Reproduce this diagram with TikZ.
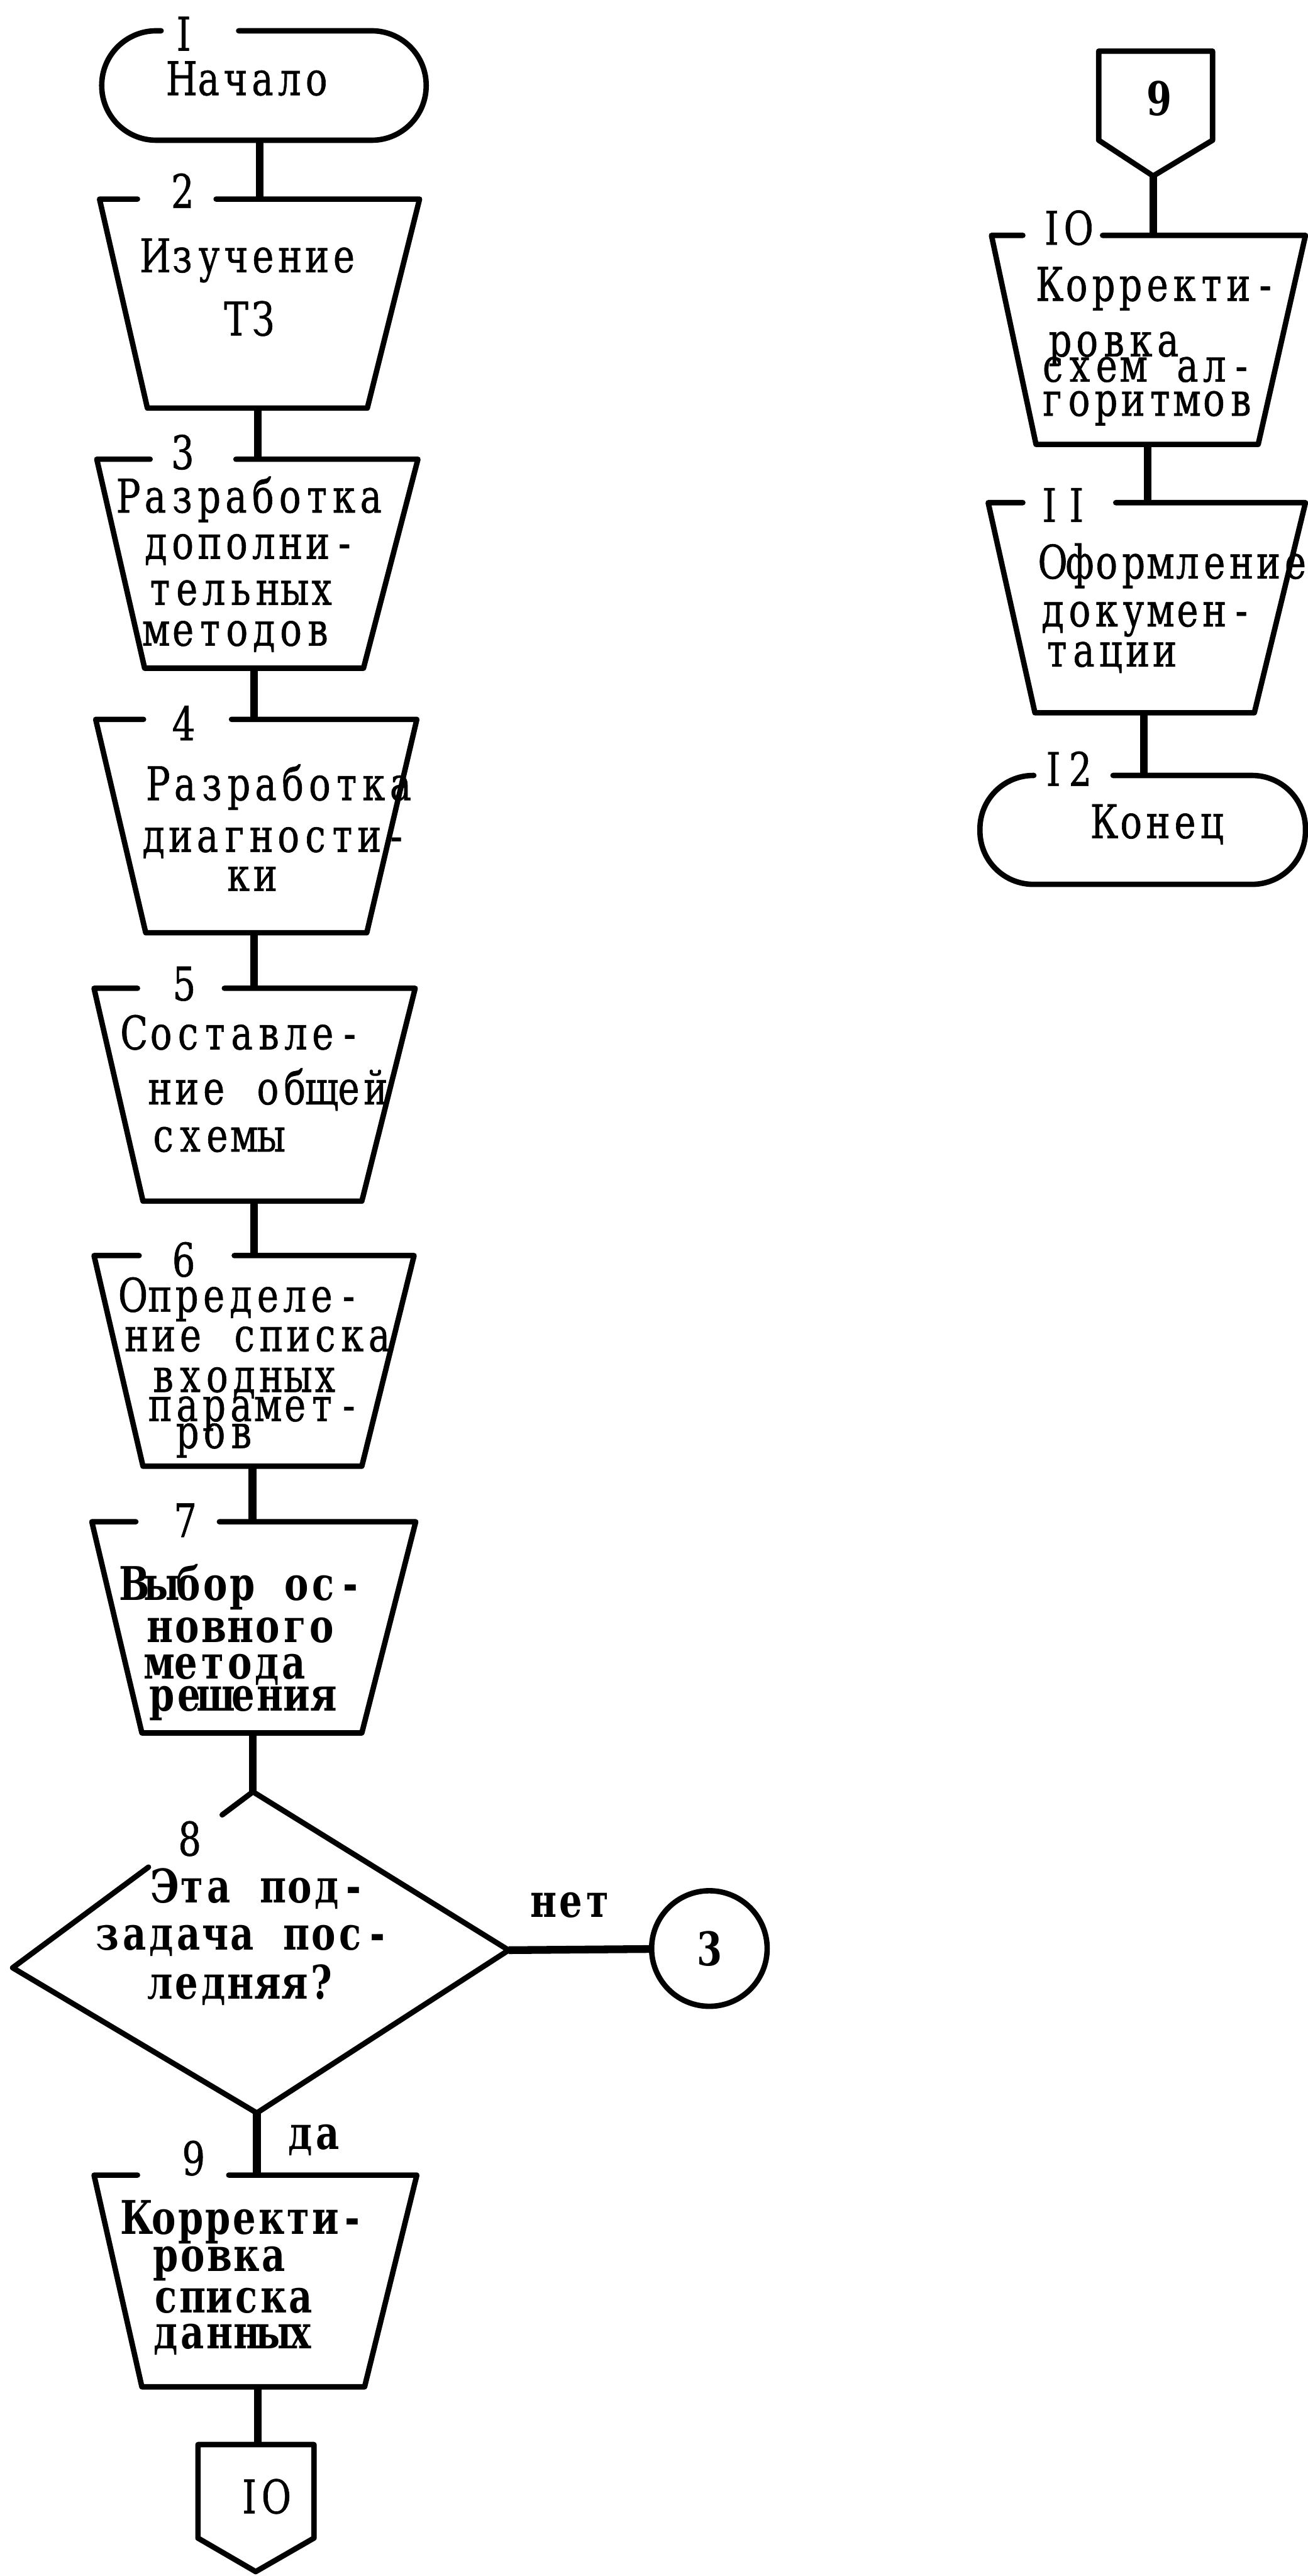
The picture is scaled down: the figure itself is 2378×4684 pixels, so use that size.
\documentclass[tikz,border=0pt]{standalone}
\usepackage{fontspec}
% typewriter-like serif faces, narrowed a little; the plain one slightly inked up
\newfontfamily\tw[FakeStretch=0.78, FakeBold=0.8]{DejaVu Serif}
\newfontfamily\twb[FakeStretch=0.78]{DejaVu Serif}
\newcommand\twsize{\fontsize{24pt}{24pt}\selectfont}
% set a word on a fixed typewriter pitch, one box per character (~ is a space)
\newcommand\typedend{}
\def\typedi#1{\ifx#1\typedend\else\makebox[13.94pt]{#1}\expandafter\typedi\fi}
\newcommand\typed[1]{\typedi#1\typedend}
\begin{document}
\begin{tikzpicture}[x=0.01cm, y=-0.01cm,
  outline/.style={line width=2.8pt, line join=round, line cap=round},
  link/.style={line width=4pt},
  txt/.style={anchor=base, inner sep=0pt, font=\tw\twsize},
  btxt/.style={anchor=base, inner sep=0pt, font=\twb\twsize\bfseries}]

\fill[white] (0,0) rectangle (2378,4684);
\useasboundingbox (0,0) rectangle (2378,4684);

% ---------------- left column ----------------
% 1: start
\draw[outline, rounded corners=0.99cm] (293,56) -- (185,56) -- (185,255) -- (775,255) -- (775,56) -- (434,56);
\node[txt] (l1) at (334,92) {\typed{I}};
\node[txt] (t1) at (453,173) {\typed{Начало}};
\coordinate (s1s) at (472,255);

% 2
\draw[outline] (250,362) -- (181,362) -- (268,742) -- (668,742) -- (763,362) -- (393,362);
\node[txt] (l2) at (332,378) {\typed{2}};
\node[txt] (t2a) at (454,495) {\typed{Изучение}};
\node[txt] (t2b) at (454,610) {\typed{ТЗ}};
\coordinate (s2n) at (472,362);
\coordinate (s2s) at (469,742);

% 3
\draw[outline] (273,835) -- (176,835) -- (263,1215) -- (661,1215) -- (760,835) -- (429,835);
\node[txt] (l3) at (332,853) {\typed{3}};
\node[txt] (t3a) at (454,932) {\typed{Разработка}};
\node[txt] (t3b) at (455,1016) {\typed{дополни-}};
\node[txt] (t3c) at (438,1100) {\typed{тельных}};
\node[txt] (t3d) at (431,1174) {\typed{методов}};
\coordinate (s3n) at (469,835);
\coordinate (s3s) at (462,1215);

% 4
\draw[outline] (261,1308) -- (174,1308) -- (265,1696) -- (667,1696) -- (758,1308) -- (421,1308);
\node[txt] (l4) at (334,1346) {\typed{4}};
\node[txt] (t4a) at (508,1455) {\typed{Разработка}};
\node[txt] (t4b) at (500,1549) {\typed{диагности-}};
\node[txt] (t4c) at (458,1620) {\typed{ки}};
\coordinate (s4n) at (462,1308);
\coordinate (s4s) at (462,1696);

% 5
\draw[outline] (250,1797) -- (171,1797) -- (260,2184) -- (658,2184) -- (755,1797) -- (408,1797);
\node[txt] (l5) at (335,1819) {\typed{5}};
\node[txt] (t5a) at (440,1908) {\typed{Составле-}};
\node[txt] (t5b) at (487,2008) {\typed{ние~общей}};
\node[txt] (t5c) at (395,2094) {\typed{схемы}};
\coordinate (s5n) at (462,1797);
\coordinate (s5s) at (462,2184);

% 6
\draw[outline] (253,2283) -- (171,2283) -- (260,2666) -- (658,2666) -- (753,2283) -- (426,2283);
\node[txt] (l6) at (334,2321) {\typed{6}};
\node[txt] (t6a) at (438,2385) {\typed{Определе-}};
\node[txt] (t6b) at (469,2457) {\typed{ние~списка}};
\node[txt] (t6c) at (444,2531) {\typed{входных}};
\node[txt] (t6d) at (463,2584) {\typed{парамет-}};
\node[txt] (t6e) at (390,2633) {\typed{ров}};
\coordinate (s6n) at (462,2283);
\coordinate (s6s) at (459,2666);

% 7
\draw[outline] (247,2767) -- (167,2767) -- (258,3151) -- (658,3151) -- (756,2767) -- (399,2767);
\node[txt] (l7) at (337,2795) {\typed{7}};
\node[btxt] (t7a) at (441,2910) {\typed{Выбор~ос-}};
\node[btxt] (t7b) at (438,2986) {\typed{новного}};
\node[btxt] (t7c) at (412,3053) {\typed{метода}};
\node[btxt] (t7d) at (442,3111) {\typed{решения}};
\coordinate (s7n) at (459,2767);
\coordinate (s7s) at (460,3151);

% 8: decision
\draw[outline] (270,3395) -- (23,3578) -- (467,3842) -- (925,3546) -- (460,3258) -- (404,3300);
\node[txt] (l8) at (345,3374) {\typed{8}};
\node[btxt] (t8a) at (472,3460) {\typed{Эта~под-}};
\node[btxt] (t8b) at (441,3546) {\typed{задача~пос-}};
\node[btxt] (t8c) at (438,3635) {\typed{ледняя?}};
\coordinate (s8n) at (460,3258);
\coordinate (s8e) at (925,3546);
\coordinate (s8s) at (467,3842);

% connector back to 3
\node[outline, draw, circle, minimum size=2.1cm, inner sep=0pt, font=\twb\twsize\bfseries] (c3) at (1290,3543) {3};
\node[btxt] (no) at (1038,3486) {\typed{нет}};
\node[btxt] (yes) at (571,3908) {\typed{да}};

% 9
\draw[outline] (250,3955) -- (171,3955) -- (258,4340) -- (663,4340) -- (758,3955) -- (416,3955);
\node[txt] (l9) at (352,3955) {\typed{9}};
\node[btxt] (t9a) at (445,4062) {\typed{Корректи-}};
\node[btxt] (t9b) at (400,4130) {\typed{ровка}};
\node[btxt] (t9c) at (424,4205) {\typed{списка}};
\node[btxt] (t9d) at (424,4270) {\typed{данных}};
\coordinate (s9n) at (467,3955);
\coordinate (s9s) at (469,4340);

% off-page connector to 10
\draw[outline] (360,4445) -- (360,4615) -- (465,4676) -- (571,4615) -- (571,4445) -- cycle;
\node[txt] (p10) at (478,4570) {\typed{IO}};
\coordinate (p10n) at (469,4445);

% ---------------- right column ----------------
% off-page connector from 9
\draw[outline] (1998,93) -- (1998,255) -- (2097,320) -- (2205,255) -- (2205,93) -- cycle;
\node[btxt] (p9) at (2108,210) {\typed{9}};
\coordinate (p9s) at (2097,320);

% 10
\draw[outline] (1860,428) -- (1803,428) -- (1884,808) -- (2288,808) -- (2374,428) -- (2005,428);
\node[txt] (l10) at (1937,445) {\typed{IO}};
\node[txt] (t10a) at (2105,547) {\typed{Корректи-}};
\node[txt] (t10b) at (2026,648) {\typed{ровка}};
\node[txt] (t10c) at (2086,694) {\typed{схем~ал-}};
\node[txt] (t10d) at (2085,756) {\typed{горитмов}};
\coordinate (s10n) at (2097,428);
\coordinate (s10s) at (2087,808);

% 11
\draw[outline] (1860,914) -- (1797,914) -- (1882,1296) -- (2281,1296) -- (2374,914) -- (2029,914);
\node[txt] (l11) at (1933,949) {\typed{II}};
\node[txt] (t11a) at (2135,1052) {\typed{Оформление}};
\node[txt] (t11b) at (2086,1139) {\typed{докумен-}};
\node[txt] (t11c) at (2020,1212) {\typed{тации}};
\coordinate (s11n) at (2087,914);
\coordinate (s11s) at (2080,1296);

% 12: end
\draw[outline, rounded corners=0.97cm] (1880,1410) -- (1782,1410) -- (1782,1608) -- (2374,1608) -- (2374,1410) -- (2024,1410);
\node[txt] (l12) at (1940,1429) {\typed{I2}};
\node[txt] (t12) at (2106,1524) {\typed{Конец}};
\coordinate (s12n) at (2080,1410);

% ---------------- flow lines ----------------
\draw[link] (s1s) -- (s2n);
\draw[link] (s2s) -- (s3n);
\draw[link] (s3s) -- (s4n);
\draw[link] (s4s) -- (s5n);
\draw[link] (s5s) -- (s6n);
\draw[link] (s6s) -- (s7n);
\draw[link] (s7s) -- (s8n);
\draw[link] (s8s) -- (s9n);
\draw[link] (s9s) -- (p10n);
\draw[link] (s8e) -- (c3);
\draw[link] (p9s) -- (s10n);
\draw[link] (s10s) -- (s11n);
\draw[link] (s11s) -- (s12n);
\end{tikzpicture}
\end{document}
